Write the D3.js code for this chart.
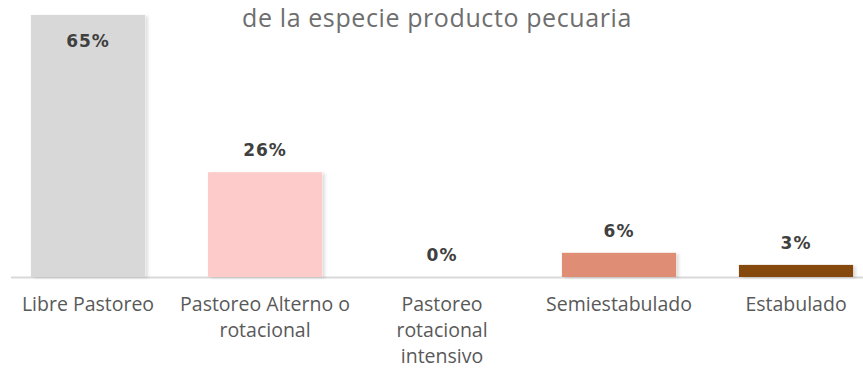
<!DOCTYPE html>
<html>
<head>
<meta charset="utf-8">
<script src="https://cdn.jsdelivr.net/npm/d3@7"></script>
<style>
  html, body { margin: 0; padding: 0; background: #fff; }
  svg { display: block; }
</style>
</head>
<body>
<svg id="chart" width="863" height="370"></svg>
<script>
const title = "de la especie producto pecuaria";
const categories = ["Libre Pastoreo", "Pastoreo Alterno o rotacional", "Pastoreo rotacional intensivo", "Semiestabulado", "Estabulado"];
const categoryLines = [["Libre Pastoreo"], ["Pastoreo Alterno o", "rotacional"], ["Pastoreo", "rotacional", "intensivo"], ["Semiestabulado"], ["Estabulado"]];
const values = [65, 26, 0, 6, 3];
const valueLabels = ["65%", "26%", "0%", "6%", "3%"];
const colors = ["#d8d8d8", "#fecbcb", "#d9d9d9", "#df8d74", "#854a08"];

const svg = d3.select("#chart");
const W = 863, H = 370;
const baseline = 277;

const x = d3.scaleBand().domain(categories).range([-0.5, 884.5]).paddingInner(0.355).paddingOuter(0.1775);
const y = d3.scaleLinear().domain([0, 65]).range([baseline, 15]);

const defs = svg.append("defs");
const f = defs.append("filter").attr("id", "shadow").attr("x", "-10%").attr("y", "-10%").attr("width", "130%").attr("height", "130%");
f.append("feDropShadow").attr("dx", 3).attr("dy", 1).attr("stdDeviation", 1.5).attr("flood-color", "#000").attr("flood-opacity", 0.12);

// title
svg.append("text")
  .attr("x", 437).attr("y", 27)
  .attr("text-anchor", "middle")
  .attr("font-family", "'Open Sans', sans-serif")
  .attr("font-size", 25)
  .attr("letter-spacing", 0.6)
  .attr("fill", "#6e6e6e")
  .text(title);

// axis line
svg.append("line")
  .attr("x1", 11).attr("x2", W)
  .attr("y1", baseline + 0.5).attr("y2", baseline + 0.5)
  .attr("stroke", "#d9d9d9").attr("stroke-width", 2);

// bars
svg.append("g").selectAll("rect").data(values).join("rect")
  .attr("x", (d, i) => x(categories[i]))
  .attr("width", x.bandwidth())
  .attr("y", d => y(d))
  .attr("height", d => baseline - y(d))
  .attr("fill", (d, i) => colors[i])
  .attr("filter", "url(#shadow)");

// value labels
svg.append("g").selectAll("text").data(values).join("text")
  .attr("x", (d, i) => x(categories[i]) + x.bandwidth() / 2)
  .attr("y", d => (y(d) - 22 < 10 ? y(d) + 32 : y(d) - 16))
  .attr("text-anchor", "middle")
  .attr("font-family", "'DejaVu Sans', sans-serif")
  .attr("font-weight", "bold")
  .attr("font-size", 17)
  .attr("letter-spacing", 1)
  .attr("fill", "#404040")
  .text((d, i) => valueLabels[i]);

// axis labels
const axis = d3.axisBottom(x).tickSize(0).tickFormat(() => "");
const ag = svg.append("g").attr("transform", `translate(0,${baseline})`).call(axis);
ag.select(".domain").remove();
ag.selectAll(".tick text").remove();
ag.selectAll(".tick").each(function(d, i) {
  const t = d3.select(this).append("text")
    .attr("text-anchor", "middle")
    .attr("font-family", "'Open Sans', sans-serif")
    .attr("font-size", 19.5)
    .attr("fill", "#595959");
  categoryLines[i].forEach((line, j) => {
    t.append("tspan").attr("x", 0).attr("y", 34 + j * 26).text(line);
  });
});
</script>
</body>
</html>
